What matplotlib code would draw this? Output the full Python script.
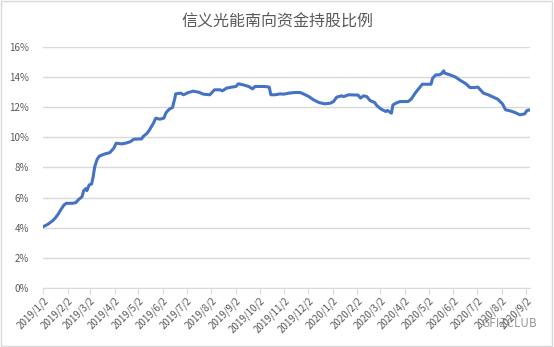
import matplotlib
matplotlib.use("Agg")
import matplotlib.pyplot as plt
import matplotlib.dates as mdates
import matplotlib.ticker as mticker
import pandas as pd
from matplotlib.patches import Rectangle

plt.rcParams['font.family'] = ['Noto Sans CJK SC', 'DejaVu Sans']

title = "信义光能南向资金持股比例"

# holding ratio (%)
dates = [
    "2019-01-02", "2019-01-08", "2019-01-14", "2019-01-17", "2019-01-21", "2019-01-24",
    "2019-01-28", "2019-01-31", "2019-02-08", "2019-02-12", "2019-02-15", "2019-02-20",
    "2019-02-22", "2019-02-25", "2019-02-26", "2019-03-01", "2019-03-04", "2019-03-06",
    "2019-03-08", "2019-03-11", "2019-03-14", "2019-03-21", "2019-03-27", "2019-04-01",
    "2019-04-04", "2019-04-11", "2019-04-16", "2019-04-22", "2019-04-26", "2019-05-06",
    "2019-05-08", "2019-05-13", "2019-05-16", "2019-05-21", "2019-05-24", "2019-05-29",
    "2019-06-03", "2019-06-06", "2019-06-10", "2019-06-14", "2019-06-17", "2019-06-18",
    "2019-06-24", "2019-06-28", "2019-07-04", "2019-07-10", "2019-07-17", "2019-07-23",
    "2019-07-31", "2019-08-06", "2019-08-13", "2019-08-16", "2019-08-21", "2019-08-28",
    "2019-09-02", "2019-09-05", "2019-09-11", "2019-09-18", "2019-09-23", "2019-09-26",
    "2019-10-08", "2019-10-14", "2019-10-16", "2019-10-21", "2019-10-28", "2019-11-01",
    "2019-11-08", "2019-11-15", "2019-11-22", "2019-11-26", "2019-12-03", "2019-12-09",
    "2019-12-16", "2019-12-23", "2019-12-30", "2020-01-03", "2020-01-07", "2020-01-13",
    "2020-01-16", "2020-01-22", "2020-02-03", "2020-02-06", "2020-02-10", "2020-02-14",
    "2020-02-18", "2020-02-24", "2020-02-27", "2020-03-03", "2020-03-09", "2020-03-11",
    "2020-03-16", "2020-03-18", "2020-03-23", "2020-03-27", "2020-04-06", "2020-04-10",
    "2020-04-15", "2020-04-20", "2020-04-24", "2020-04-30", "2020-05-05", "2020-05-07",
    "2020-05-11", "2020-05-15", "2020-05-18", "2020-05-21", "2020-05-22", "2020-05-29",
    "2020-06-05", "2020-06-11", "2020-06-18", "2020-06-23", "2020-06-29", "2020-07-03",
    "2020-07-10", "2020-07-16", "2020-07-21", "2020-07-28", "2020-08-03", "2020-08-07",
    "2020-08-13", "2020-08-19", "2020-08-25", "2020-08-31", "2020-09-03", "2020-09-07",
]
ratio = [
    4.07, 4.23, 4.47, 4.63, 4.91, 5.18,
    5.50, 5.62, 5.62, 5.66, 5.84, 6.06,
    6.46, 6.60, 6.46, 6.84, 6.90, 7.39,
    8.05, 8.54, 8.76, 8.90, 8.98, 9.28,
    9.61, 9.56, 9.61, 9.71, 9.87, 9.89,
    10.05, 10.27, 10.49, 10.94, 11.27, 11.20,
    11.27, 11.64, 11.87, 11.97, 12.60, 12.88,
    12.93, 12.82, 12.97, 13.06, 12.99, 12.86,
    12.82, 13.15, 13.15, 13.08, 13.26, 13.33,
    13.37, 13.55, 13.48, 13.37, 13.21, 13.37,
    13.37, 13.33, 12.82, 12.82, 12.88, 12.86,
    12.93, 12.97, 12.97, 12.88, 12.70, 12.48,
    12.30, 12.22, 12.26, 12.37, 12.66, 12.75,
    12.70, 12.82, 12.80, 12.60, 12.75, 12.70,
    12.44, 12.30, 12.08, 11.87, 11.71, 11.78,
    11.60, 12.15, 12.30, 12.37, 12.37, 12.53,
    12.93, 13.26, 13.52, 13.52, 13.52, 13.92,
    14.14, 14.14, 14.21, 14.41, 14.26, 14.14,
    13.99, 13.77, 13.55, 13.30, 13.30, 13.33,
    12.93, 12.82, 12.70, 12.53, 12.22, 11.82,
    11.75, 11.64, 11.49, 11.55, 11.78, 11.82,
]
# monthly ticks on the 2nd of each month
tick_dates = pd.date_range("2019-01-01", "2020-09-01", freq="MS") + pd.Timedelta(days=1)

x = pd.to_datetime(dates)
y = [v / 100 for v in ratio]

fig = plt.figure(figsize=(5.54, 3.47), dpi=100)
ax = fig.add_axes([0.078, 0.170, 0.879, 0.695])

ax.plot(x, y, color="#4472C4", linewidth=2.2, solid_joinstyle="round")

ax.set_ylim(0, 0.16)
ax.set_yticks([i * 0.02 for i in range(9)])
ax.yaxis.set_major_formatter(mticker.FuncFormatter(lambda v, p: f"{v*100:.0f}%"))
ax.set_xlim(pd.Timestamp("2019-01-02"), pd.Timestamp("2020-09-07"))
ax.set_xticks(tick_dates)


def fmt_date(v, p):
    d = mdates.num2date(v)
    return f"{d.year}/{d.month}/{d.day}"


ax.xaxis.set_major_formatter(mticker.FuncFormatter(fmt_date))

ax.grid(axis="y", color="#D9D9D9", linewidth=1)
ax.set_axisbelow(True)
for s in ["top", "right", "left"]:
    ax.spines[s].set_visible(False)
ax.spines["bottom"].set_color("#D9D9D9")
ax.tick_params(axis="y", length=0, labelsize=7, labelcolor="#595959", pad=10)
ax.tick_params(axis="x", length=4, color="#D9D9D9", labelsize=7, labelcolor="#595959", pad=1)
for lab in ax.get_xticklabels():
    lab.set_rotation(45)
    lab.set_ha("right")
    lab.set_va("top")
    lab.set_rotation_mode("anchor")

fig.text(0.5, 0.935, title, ha="center", va="center", fontsize=11.5, color="#595959")
fig.text(0.97, 0.068, "GFIZCLUB", ha="right", va="center", fontsize=8.5, color="#7F7F7F", alpha=0.8)

fig.patches.append(Rectangle((0.002, 0.003), 0.995, 0.993, transform=fig.transFigure,
                             fill=False, edgecolor="#D9D9D9", linewidth=1))

fig.savefig("out.png", dpi=100)
